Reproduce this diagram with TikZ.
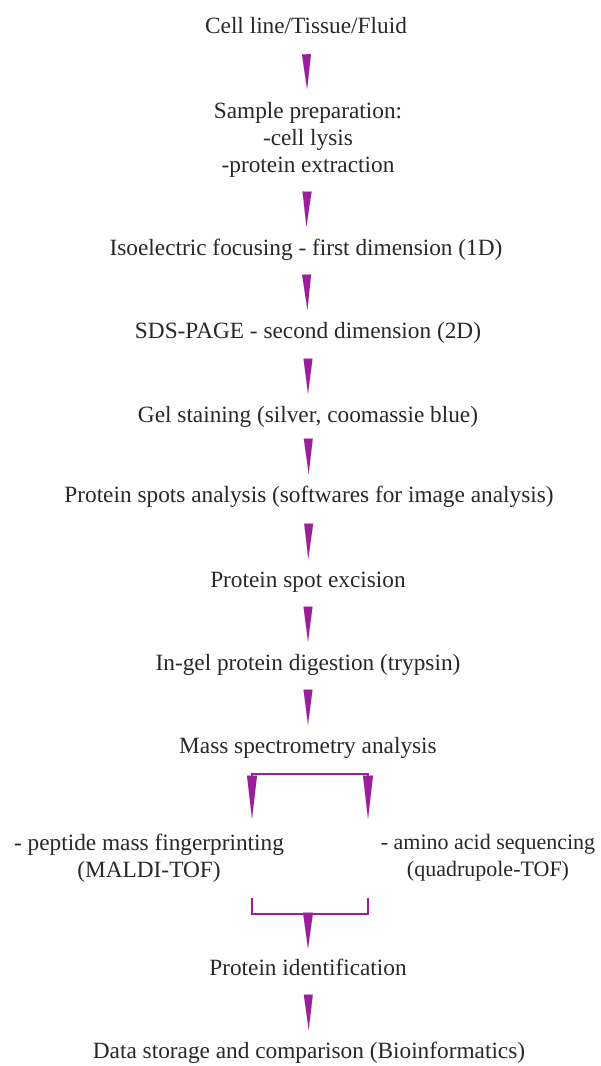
\documentclass[tikz,border=0pt]{standalone}
\usepackage{fontspec}
\setmainfont{Liberation Serif}
\usetikzlibrary{arrows.meta,calc}
\definecolor{pur}{RGB}{155,30,155}
\definecolor{txt}{RGB}{40,40,40}
\begin{document}
\begin{tikzpicture}[x=1pt,y=-1pt,
  lbl/.style={font=\fontsize{23.3}{27}\selectfont, text=txt, inner sep=0pt, text height=16pt, text depth=4.5pt},
  mlbl/.style={font=\fontsize{23.3}{27}\selectfont, text=txt, inner sep=0pt, align=center},
  flow/.style={draw=pur, line width=0.01pt, shorten <=15pt, shorten >=13pt, -{Triangle[length=35pt,width=9pt]}},
  branch/.style={draw=pur, line width=0.01pt, shorten <=1pt, shorten >=15pt, -{Triangle[length=43pt,width=10pt]}},
  merge/.style={draw=pur, line width=0.01pt, shorten >=11pt, -{Triangle[length=36pt,width=10pt]}},
  brk/.style={draw=pur, line width=2.8pt}]
\useasboundingbox[fill=white] (0,0) rectangle (600,1066);

\node[lbl] (cell) at (306,28) {Cell line/Tissue/Fluid};
\node[mlbl] (prep) at (308,140) {Sample preparation:\\-cell lysis\\-protein extraction};
\node[lbl] (iso) at (306,250) {Isoelectric focusing - first dimension (1D)};
\node[lbl] (sds) at (308,333) {SDS-PAGE - second dimension (2D)};
\node[lbl] (gel) at (308,417) {Gel staining (silver, coomassie blue)};
\node[lbl] (spots) at (309,497) {Protein spots analysis (softwares for image analysis)};
\node[lbl] (exc) at (308,582) {Protein spot excision};
\node[lbl] (dig) at (308,665) {In-gel protein digestion (trypsin)};
\node[lbl] (ms) at (308,748) {Mass spectrometry analysis};
\node[mlbl] (pmf) at (149,858) {- peptide mass fingerprinting\\(MALDI-TOF)};
\node[mlbl, font=\fontsize{22}{27}\selectfont] (aas) at (488,858) {- amino acid sequencing\\(quadrupole-TOF)};
\node[lbl] (pid) at (308,970) {Protein identification};
\node[lbl] (data) at (309,1053) {Data storage and comparison (Bioinformatics)};

\draw[flow] (cell) -- (prep);
\draw[flow] (prep) -- (iso);
\draw[flow] (iso) -- (sds);
\draw[flow] (sds) -- (gel);
\draw[flow] (gel) -- (spots);
\draw[flow] (spots) -- (exc);
\draw[flow] (exc) -- (dig);
\draw[flow] (dig) -- (ms);

\coordinate (bl) at (252,774);
\coordinate (br) at (368,774);
\draw[brk] ($(bl)+(0,6)$) -- (bl) -- (br) -- ($(br)+(0,6)$);
\draw[branch] (bl) -- (bl |- pmf.north);
\draw[branch] (br) -- (br |- pmf.north);

\coordinate (cl) at (252,914);
\coordinate (cr) at (368,914);
\coordinate (cm) at (308,914);
\draw[brk] ($(cl)+(0,-16)$) -- (cl) -- (cr) -- ($(cr)+(0,-16)$);
\draw[merge] (cm) -- (pid);
\draw[flow] (pid) -- (data);
\end{tikzpicture}
\end{document}
